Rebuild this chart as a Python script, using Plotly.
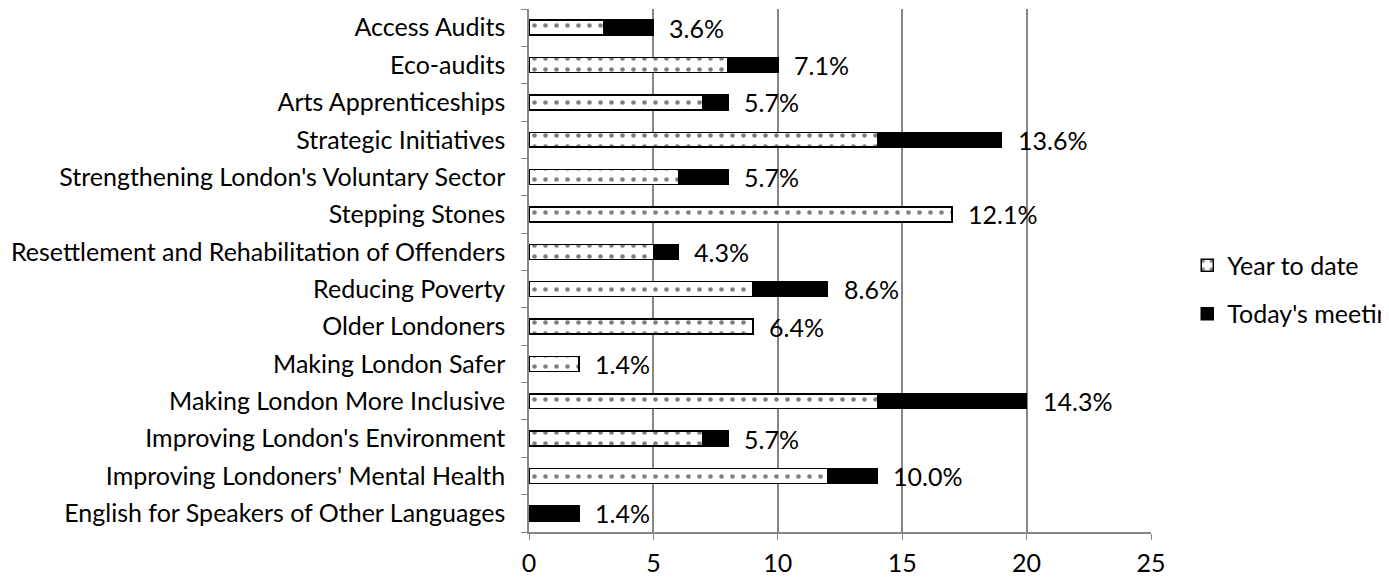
import plotly.graph_objects as go

categories = ["English for Speakers of Other Languages", "Improving Londoners' Mental Health",
              "Improving London's Environment", "Making London More Inclusive", "Making London Safer",
              "Older Londoners", "Reducing Poverty", "Resettlement and Rehabilitation of Offenders",
              "Stepping Stones", "Strengthening London's Voluntary Sector", "Strategic Initiatives",
              "Arts Apprenticeships", "Eco-audits", "Access Audits"]
year_to_date = [0, 12, 7, 14, 2, 9, 9, 5, 17, 6, 14, 7, 8, 3]
todays_meeting = [2, 2, 1, 6, 0, 0, 3, 1, 0, 2, 5, 1, 2, 2]
pct_labels = ["1.4%", "10.0%", "5.7%", "14.3%", "1.4%", "6.4%", "8.6%", "4.3%", "12.1%",
              "5.7%", "13.6%", "5.7%", "7.1%", "3.6%"]
x_ticks = [0, 5, 10, 15, 20, 25]

FONT = "Lato"
fs = 25

fig = go.Figure()
fig.add_trace(go.Bar(
    y=categories, x=year_to_date, orientation="h", name="Year to date", legendgroup="a",
    marker=dict(color="white", line=dict(color="black", width=1.5),
                pattern=dict(shape=".", fgcolor="black", bgcolor="white", size=11, solidity=0.14)),
))
fig.add_trace(go.Bar(
    y=categories, x=todays_meeting, orientation="h", name="Today's meeting", legendgroup="b",
    marker=dict(color="black", line=dict(color="black", width=1.5)),
))
totals = [a + b for a, b in zip(year_to_date, todays_meeting)]
for c, t, lab in zip(categories, totals, pct_labels):
    fig.add_annotation(x=t, y=c, text=lab, showarrow=False, xanchor="left", xshift=14,
                       font=dict(family=FONT, size=fs, color="black"))

fig.update_layout(
    barmode="stack", bargap=0.6,
    width=1389, height=579,
    margin=dict(l=521, r=246, t=1, b=55),
    plot_bgcolor="white", paper_bgcolor="white",
    font=dict(family=FONT, size=fs, color="black"),
    legend=dict(xref="container", yref="container", x=0.849, y=0.514, yanchor="middle", xanchor="left",
                traceorder="grouped", font=dict(family=FONT, size=fs), itemwidth=30, tracegroupgap=13),
    showlegend=True,
)
fig.update_xaxes(range=[0, 25], tickvals=x_ticks, showgrid=True, gridcolor="#868686", gridwidth=1.5,
                 showline=True, linecolor="#868686", linewidth=1.5, ticks="outside", ticklen=6,
                 tickcolor="#868686", zeroline=False, tickfont=dict(family=FONT, size=fs),
                 ticklabelstandoff=2)
fig.update_yaxes(showline=True, linecolor="#868686", linewidth=1.5, ticks="outside", ticklen=6,
                 tickcolor="#868686", tickson="boundaries", showgrid=False,
                 tickfont=dict(family=FONT, size=fs), ticklabelstandoff=17)

fig.write_html("out.html")
